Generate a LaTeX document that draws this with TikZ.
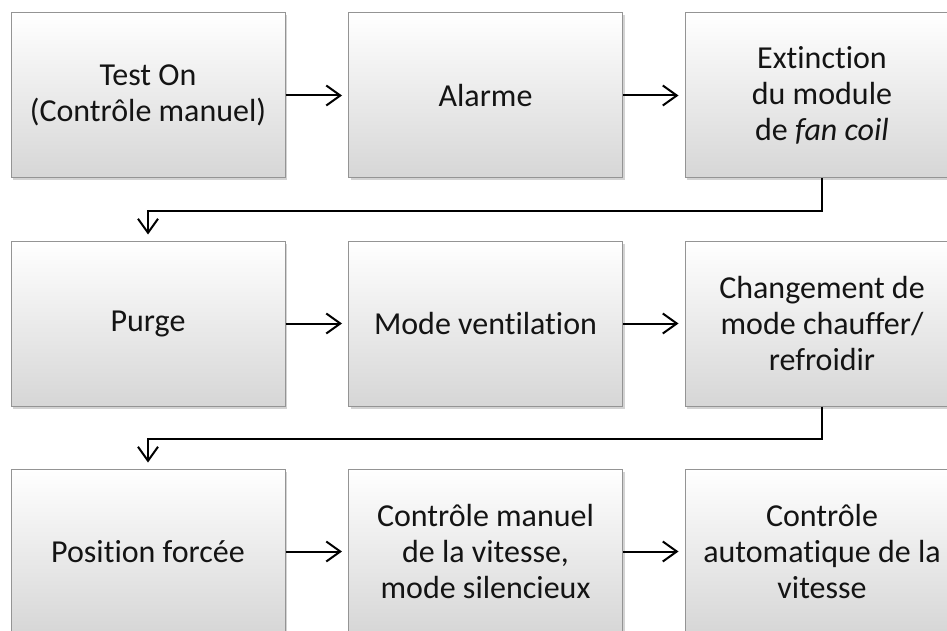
\documentclass[tikz,border=0pt]{standalone}
\usepackage{fontspec}
\setmainfont{Carlito}[Ligatures=NoCommon]
\usetikzlibrary{arrows.meta,shadows}
\begin{document}
\begin{tikzpicture}[x=1pt,y=-1pt,
 box/.style={rectangle, draw=black!42, line width=1pt, top color=white, bottom color=black!16,
   minimum width=274pt, minimum height=165pt, align=center, inner sep=4pt,
   font=\fontsize{32}{36}\selectfont, text=black!92,
   drop shadow={shadow xshift=2pt,shadow yshift=-2.5pt,opacity=0.35}},
 arr/.style={line width=2pt, -{Straight Barb[length=14pt,width=20pt,line width=2pt]}, shorten >=6pt}
]
\useasboundingbox (0,0) rectangle (947,631);
\clip (0,0) rectangle (947,631);
\node[box] (a1) at (148,95.5) {Test On\\(Contrôle manuel)};
\node[box] (a2) at (485.5,95.5) {Alarme};
\node[box] (a3) at (822,95.5) {Extinction\\du module\\de \textit{fan coil}};
\node[box] (b1) at (148,323.5) {Purge};
\node[box] (b2) at (485.5,323.5) {Mode ventilation};
\node[box] (b3) at (822,323.5) {Changement de\\mode chauffer/\\refroidir};
\node[box] (c1) at (148,551.5) {Position forcée};
\node[box] (c2) at (485.5,551.5) {Contrôle manuel\\de la vitesse,\\mode silencieux};
\node[box] (c3) at (822,551.5) {Contrôle\\automatique de la\\vitesse};
\draw[arr] (a1) -- (a2);
\draw[arr] (a2) -- (a3);
\draw[arr] (b1) -- (b2);
\draw[arr] (b2) -- (b3);
\draw[arr] (c1) -- (c2);
\draw[arr] (c2) -- (c3);
\draw[arr, line join=miter] (a3.south) -- ++(0,32) -| (b1.north);
\draw[arr, line join=miter] (b3.south) -- ++(0,32) -| (c1.north);
\end{tikzpicture}
\end{document}
